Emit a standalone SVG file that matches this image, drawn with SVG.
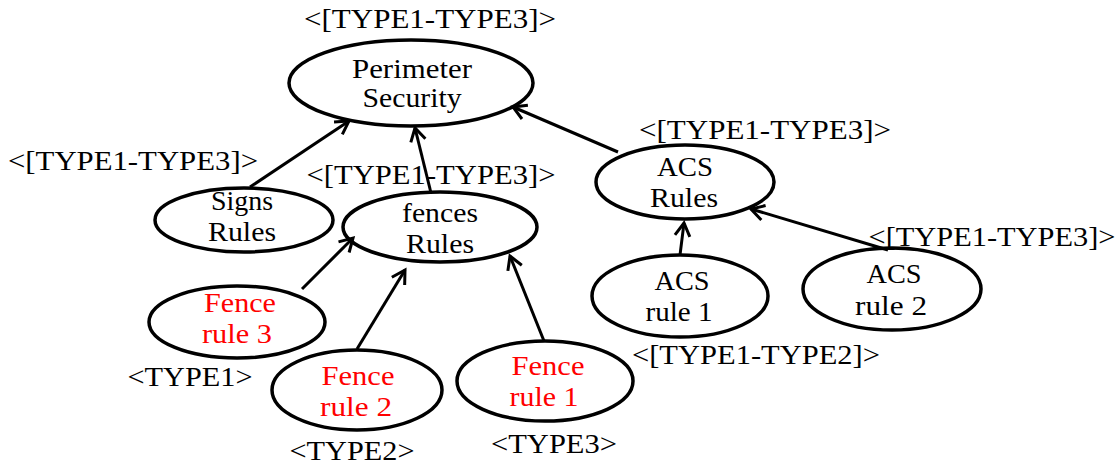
<svg xmlns="http://www.w3.org/2000/svg" width="1120" height="465" viewBox="0 0 1120 465">
  <style>
    text { font-family: "Liberation Serif", "Times New Roman", serif; font-size: 28px; fill: #000; text-anchor: middle; }
    .red { fill: #ff0000; }
    .node { fill: none; stroke: #000; stroke-width: 3.5; }
    .edge { fill: none; stroke: #000; stroke-width: 3; marker-end: url(#arrow); }
  </style>
  <defs>
    <marker id="arrow" markerUnits="userSpaceOnUse" viewBox="-18 -11 22 22" markerWidth="22" markerHeight="22" refX="0" refY="0" orient="auto">
      <path d="M-13,-7.5 L0,0 L-13,7.5" fill="none" stroke="#000" stroke-width="3"/>
    </marker>
  </defs>
  <rect width="1120" height="465" fill="#fff"/>

  <!-- multiplicity labels -->
  <g id="labels">
    <text x="430" y="28" textLength="252" lengthAdjust="spacingAndGlyphs">&lt;[TYPE1-TYPE3]&gt;</text>
    <text x="133" y="170" textLength="250" lengthAdjust="spacingAndGlyphs">&lt;[TYPE1-TYPE3]&gt;</text>
    <text x="431" y="184" textLength="249" lengthAdjust="spacingAndGlyphs">&lt;[TYPE1-TYPE3]&gt;</text>
    <text x="765" y="139" textLength="252" lengthAdjust="spacingAndGlyphs">&lt;[TYPE1-TYPE3]&gt;</text>
    <text x="992" y="246" textLength="247" lengthAdjust="spacingAndGlyphs">&lt;[TYPE1-TYPE3]&gt;</text>
    <text x="756" y="364" textLength="248" lengthAdjust="spacingAndGlyphs">&lt;[TYPE1-TYPE2]&gt;</text>
    <text x="190" y="386" textLength="125" lengthAdjust="spacingAndGlyphs">&lt;TYPE1&gt;</text>
    <text x="352" y="460" textLength="125" lengthAdjust="spacingAndGlyphs">&lt;TYPE2&gt;</text>
    <text x="554" y="453" textLength="126" lengthAdjust="spacingAndGlyphs">&lt;TYPE3&gt;</text>
  </g>

  <!-- connectors -->
  <g id="connectors">
    <line class="edge" x1="250" y1="187" x2="349" y2="121"/>
    <line class="edge" x1="431" y1="193" x2="415" y2="128"/>
    <line class="edge" x1="618" y1="152" x2="513" y2="107"/>
    <line class="edge" x1="302" y1="289" x2="353" y2="238"/>
    <line class="edge" x1="357" y1="349" x2="405" y2="270"/>
    <line class="edge" x1="544" y1="341" x2="510" y2="256"/>
    <line class="edge" x1="680" y1="255" x2="684" y2="223"/>
    <line class="edge" x1="888" y1="250" x2="751" y2="209"/>
  </g>

  <!-- nodes -->
  <g id="perimeter-security">
    <ellipse class="node" cx="411" cy="83" rx="122" ry="43"/>
    <text x="412" y="78" textLength="120" lengthAdjust="spacingAndGlyphs">Perimeter</text>
    <text x="412" y="107" textLength="99" lengthAdjust="spacingAndGlyphs">Security</text>
  </g>
  <g id="signs-rules">
    <ellipse class="node" cx="244" cy="220" rx="89" ry="32"/>
    <text x="242" y="210" textLength="62" lengthAdjust="spacingAndGlyphs">Signs</text>
    <text x="242" y="241" textLength="68" lengthAdjust="spacingAndGlyphs">Rules</text>
  </g>
  <g id="fences-rules">
    <ellipse class="node" cx="440" cy="227" rx="97" ry="35"/>
    <text x="440" y="222" textLength="76" lengthAdjust="spacingAndGlyphs">fences</text>
    <text x="440" y="253" textLength="68" lengthAdjust="spacingAndGlyphs">Rules</text>
  </g>
  <g id="fence-rule-3">
    <ellipse class="node" cx="237" cy="322" rx="88" ry="36"/>
    <text class="red" x="240" y="312" textLength="72" lengthAdjust="spacingAndGlyphs">Fence</text>
    <text class="red" x="237" y="343" textLength="70" lengthAdjust="spacingAndGlyphs">rule 3</text>
  </g>
  <g id="fence-rule-2">
    <ellipse class="node" cx="357" cy="390" rx="85" ry="40"/>
    <text class="red" x="358" y="385" textLength="73" lengthAdjust="spacingAndGlyphs">Fence</text>
    <text class="red" x="356" y="416" textLength="72" lengthAdjust="spacingAndGlyphs">rule 2</text>
  </g>
  <g id="fence-rule-1">
    <ellipse class="node" cx="545" cy="381" rx="88" ry="40"/>
    <text class="red" x="548" y="375" textLength="73" lengthAdjust="spacingAndGlyphs">Fence</text>
    <text class="red" x="544" y="406" textLength="69" lengthAdjust="spacingAndGlyphs">rule 1</text>
  </g>
  <g id="acs-rules">
    <ellipse class="node" cx="685" cy="182" rx="89" ry="37"/>
    <text x="685" y="176" textLength="56" lengthAdjust="spacingAndGlyphs">ACS</text>
    <text x="684" y="207" textLength="68" lengthAdjust="spacingAndGlyphs">Rules</text>
  </g>
  <g id="acs-rule-1">
    <ellipse class="node" cx="680" cy="296" rx="88" ry="41"/>
    <text x="682" y="290" textLength="55" lengthAdjust="spacingAndGlyphs">ACS</text>
    <text x="679" y="321" textLength="67" lengthAdjust="spacingAndGlyphs">rule 1</text>
  </g>
  <g id="acs-rule-2">
    <ellipse class="node" cx="892" cy="289" rx="89" ry="41"/>
    <text x="894" y="283" textLength="55" lengthAdjust="spacingAndGlyphs">ACS</text>
    <text x="891" y="315" textLength="72" lengthAdjust="spacingAndGlyphs">rule 2</text>
  </g>
</svg>
